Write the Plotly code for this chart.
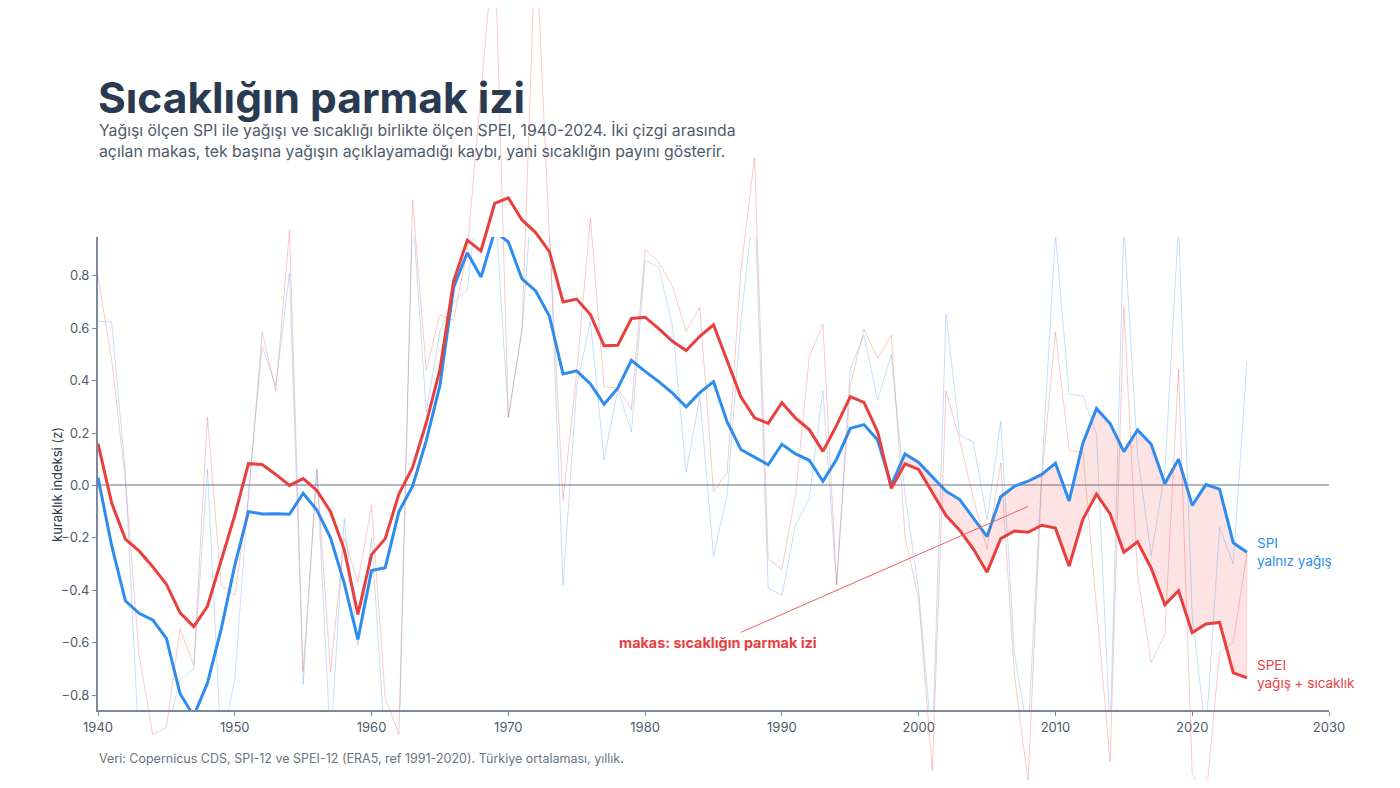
import plotly.graph_objects as go

# yillar ve degerler (grafikten okunan tahmini degerler)
years = list(range(1940, 2025))

# SPI - yalniz yagis, duzlestirilmis
spi_smooth = [
    0.03, -0.23, -0.44, -0.488, -0.513, -0.584, -0.795, -0.88, -0.754, -0.55,
    -0.305, -0.10, -0.109, -0.108, -0.11, -0.03, -0.094, -0.20, -0.373, -0.588,
    -0.325, -0.314, -0.10, -0.003, 0.171, 0.382, 0.756, 0.888, 0.795, 0.97,
    0.929, 0.788, 0.742, 0.646, 0.425, 0.437, 0.387, 0.31, 0.371, 0.477,
    0.435, 0.396, 0.352, 0.30, 0.354, 0.396, 0.242, 0.137, 0.108, 0.079,
    0.157, 0.12, 0.096, 0.016, 0.10, 0.218, 0.232, 0.173, 0.0, 0.12,
    0.088, 0.035, -0.022, -0.054, -0.123, -0.195, -0.043, -0.003, 0.016, 0.042,
    0.085, -0.059, 0.16, 0.293, 0.236, 0.129, 0.212, 0.157, 0.007, 0.10,
    -0.076, 0.003, -0.014, -0.219, -0.255,
]

# SPEI - yagis + sicaklik, duzlestirilmis
spei_smooth = [
    0.16, -0.067, -0.205, -0.25, -0.31, -0.377, -0.486, -0.539, -0.461, -0.29,
    -0.114, 0.083, 0.08, 0.042, 0.0, 0.026, -0.019, -0.10, -0.244, -0.492,
    -0.264, -0.203, -0.033, 0.069, 0.239, 0.443, 0.78, 0.936, 0.895, 1.076,
    1.097, 1.013, 0.965, 0.892, 0.70, 0.711, 0.652, 0.533, 0.535, 0.637,
    0.642, 0.598, 0.55, 0.515, 0.569, 0.613, 0.473, 0.338, 0.258, 0.237,
    0.316, 0.257, 0.213, 0.13, 0.229, 0.339, 0.317, 0.205, -0.011, 0.082,
    0.061, -0.027, -0.115, -0.171, -0.243, -0.331, -0.203, -0.174, -0.179, -0.152,
    -0.163, -0.308, -0.13, -0.033, -0.109, -0.255, -0.215, -0.316, -0.455, -0.402,
    -0.562, -0.529, -0.523, -0.715, -0.734,
]

# yillik ham degerler
spi_raw = [
    0.627, 0.623, 0.05, -1.0, -1.05, -0.95, -0.74, -0.70, 0.063, -1.0,
    -0.74, -0.03, 0.53, 0.38, 0.81, -0.76, 0.065, -1.0, -0.125, -0.61,
    -0.2, -1.0, -1.0, 1.05, 0.28, 0.59, 0.70, 0.745, 1.2, 1.1,
    0.26, 0.59, 1.3, 1.0, -0.38, 0.377, 0.627, 0.098, 0.367, 0.204,
    0.858, 0.833, 0.608, 0.05, 0.338, -0.267, -0.037, 0.627, 1.1, -0.392,
    -0.42, -0.15, -0.051, 0.362, -0.38, 0.445, 0.573, 0.325, 0.50, -0.035,
    -0.40, -1.0, 0.653, 0.192, 0.165, -0.131, 0.245, -0.643, -0.95, 0.05,
    0.96, 0.349, 0.342, 0.196, -0.95, 1.0, 0.117, -0.269, 0.05, 1.0,
    -0.5, -0.95, -0.16, -0.30, 0.472,
]

spei_raw = [
    0.797, 0.48, 0.02, -0.645, -0.95, -0.924, -0.547, -0.686, 0.26, -0.38,
    -0.42, -0.05, 0.586, 0.36, 0.974, -0.71, 0.06, -0.713, -0.2, -0.37,
    -0.076, -0.81, -0.95, 1.09, 0.44, 0.65, 0.63, 0.9, 1.5, 2.1,
    0.26, 0.6, 2.1, 0.95, -0.056, 0.43, 1.02, 0.377, 0.371, 0.29,
    0.90, 0.852, 0.76, 0.588, 0.68, -0.023, 0.05, 0.82, 1.25, -0.28,
    -0.32, -0.035, 0.49, 0.616, -0.38, 0.38, 0.597, 0.485, 0.573, -0.195,
    -0.435, -1.088, 0.362, 0.173, -0.051, -0.243, 0.085, -0.723, -1.13, 0.029,
    0.586, 0.133, 0.128, -0.45, -1.055, 0.682, -0.34, -0.676, -0.569, 0.443,
    -1.1, -1.2, -0.638, -0.60, -0.26,
]

gap_start = 1998  # makasin boyandigi donem

blue = "#2d8cf0"
red = "#e8403f"
ink = "#2a3a50"
grey = "#4f5b6b"
font = "Inter, Lato, sans-serif"

# sayfa govdesinin 8px kenar boslugu yuzunden figur 1384x772
W, H = 1384, 772
OFF = 8


def px(x):
    return (x - OFF) / W


def py(y):
    return 1 - (y - OFF) / H


y_range = [-0.857, 0.948]
x_dom = [px(98), px(1329)]
y_dom = [py(710), py(237)]

# kirmizi cizgiler cerceve disina tasiyor: tam yukseklikte ikinci bir eksen
per = (y_range[1] - y_range[0]) / (y_dom[1] - y_dom[0])
y2_range = [y_range[0] - y_dom[0] * per, y_range[1] + (1 - y_dom[1]) * per]

fig = go.Figure()

i0 = years.index(gap_start)
gap_x = years[i0:] + years[i0:][::-1]
gap_y = spi_smooth[i0:] + spei_smooth[i0:][::-1]
fig.add_trace(go.Scatter(
    x=gap_x, y=gap_y, fill="toself", mode="lines",
    fillcolor="rgba(240,80,80,0.16)", line=dict(width=0.6, color="rgba(240,80,80,0.25)"),
    hoverinfo="skip",
))

fig.add_trace(go.Scatter(
    x=years, y=spi_raw, mode="lines",
    line=dict(color="rgba(45,140,240,0.28)", width=1),
))
fig.add_trace(go.Scatter(
    x=years, y=spi_smooth, mode="lines",
    line=dict(color=blue, width=3),
))

fig.add_trace(go.Scatter(
    x=years, y=spei_raw, mode="lines", xaxis="x2", yaxis="y2",
    line=dict(color="rgba(232,64,63,0.28)", width=1),
))
fig.add_trace(go.Scatter(
    x=years, y=spei_smooth, mode="lines", xaxis="x2", yaxis="y2",
    line=dict(color=red, width=3),
))

axis_col = "#7d8898"
fig.update_layout(
    width=W, height=H,
    margin=dict(l=0, r=0, t=0, b=0),
    paper_bgcolor="white",
    plot_bgcolor="rgba(0,0,0,0)",
    showlegend=False,
    font=dict(family=font, color=grey, size=13),
    xaxis=dict(
        domain=x_dom, range=[1940, 2030], dtick=10, anchor="y",
        automargin=False,
        showgrid=False, zeroline=False,
        showline=True, linecolor=axis_col, linewidth=2,
        ticks="outside", ticklen=4, tickcolor=axis_col,
        tickfont=dict(size=13, color=grey),
    ),
    yaxis=dict(
        domain=y_dom, range=y_range, anchor="x",
        automargin=False,
        tickvals=[-0.8, -0.6, -0.4, -0.2, 0.0, 0.2, 0.4, 0.6, 0.8],
        tickformat=".1f",
        showgrid=False,
        zeroline=True, zerolinecolor="#b0b7c2", zerolinewidth=1.5,
        showline=True, linecolor=axis_col, linewidth=2,
        ticks="outside", ticklen=4, tickcolor=axis_col,
        tickfont=dict(size=13, color=grey),
    ),
    xaxis2=dict(domain=x_dom, range=[1940, 2030], anchor="y2", visible=False,
                automargin=False),
    yaxis2=dict(domain=[0, 1], range=y2_range, anchor="x2", visible=False,
                automargin=False),
)

notes = [
    dict(x=px(96), y=py(98), text="<b>Sıcaklığın parmak izi</b>",
         font=dict(size=42.5, color=ink)),
    dict(x=px(97), y=py(130),
         text="Yağışı ölçen SPI ile yağışı ve sıcaklığı birlikte ölçen SPEI, 1940-2024. İki çizgi arasında",
         font=dict(size=15.8, color=grey)),
    dict(x=px(97), y=py(151),
         text="açılan makas, tek başına yağışın açıklayamadığı kaybı, yani sıcaklığın payını gösterir.",
         font=dict(size=15.8, color=grey)),
    dict(x=px(97), y=py(758),
         text="Veri: Copernicus CDS, SPI-12 ve SPEI-12 (ERA5, ref 1991-2020). Türkiye ortalaması, yıllık.",
         font=dict(size=12.5, color="#6b7482")),
]
for n in notes:
    fig.add_annotation(xref="paper", yref="paper", xanchor="left", yanchor="middle",
                       showarrow=False, **n)

fig.add_annotation(
    xref="paper", yref="paper", x=px(57), y=py(485),
    xanchor="center", yanchor="middle",
    text="kuraklık indeksi (z)", textangle=-90, showarrow=False,
    font=dict(size=13, color="#333a45"),
)

# cizgi sonu etiketleri
fig.add_annotation(x=years[-1], y=spi_smooth[-1], xanchor="left", yanchor="middle",
                   xshift=8, showarrow=False, align="left",
                   text="SPI<br>yalnız yağış", font=dict(size=13.5, color=blue))
fig.add_annotation(x=years[-1], y=spei_smooth[-1], xanchor="left", yanchor="middle",
                   xshift=8, yshift=4, showarrow=False, align="left",
                   text="SPEI<br>yağış + sıcaklık", font=dict(size=13.5, color=red))

fig.add_annotation(
    x=2008, y=-0.08, ax=-310, ay=136,
    text="<b>makas: sıcaklığın parmak izi</b>",
    showarrow=True, arrowhead=0, arrowwidth=1, arrowcolor="#f06060",
    font=dict(size=14.4, color=red),
)

fig.write_html("out.html")
